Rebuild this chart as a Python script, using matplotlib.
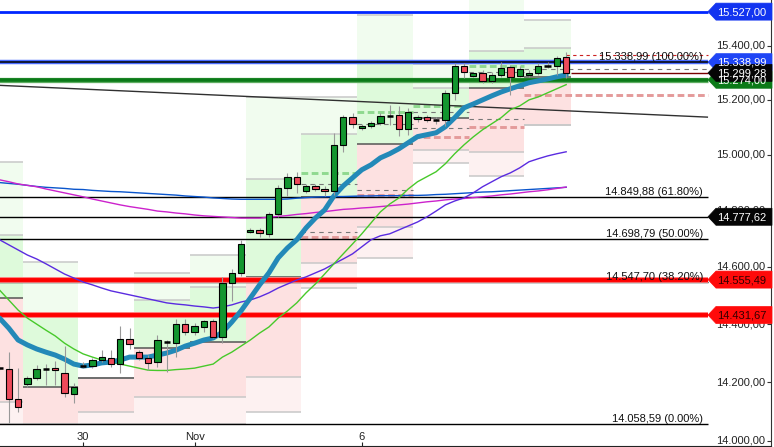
import numpy as np
import matplotlib
matplotlib.use("Agg")
import matplotlib.pyplot as plt
from matplotlib.patches import Polygon
from matplotlib.transforms import ScaledTranslation, blended_transform_factory
from matplotlib.ticker import NullLocator

plt.rcParams['font.family'] = ['Liberation Sans', 'DejaVu Sans']

################################################################################
# --- DATA
################################################################################
# candles (6 per day)
opens = [14250, 14245, 14142, 14192, 14213, 14246, 14247, 14233, 14159, 14254,
         14254, 14275, 14284, 14261, 14349, 14302, 14284, 14268, 14339, 14336,
         14402, 14373, 14391, 14411, 14356, 14543, 14578, 14724, 14730, 14716,
         14786, 14880, 14920, 14871, 14886, 14876, 14868, 15034, 15137, 15097,
         15103, 15114, 15140, 15145, 15093, 15130, 15137, 15127, 15127, 15225,
         15325, 15288, 15298, 15270, 15292, 15320, 15288, 15292, 15298, 15326,
         15326, 15357]
highs = [14262, 14304, 14247, 14221, 14259, 14262, 14273, 14324, 14196, 14270,
         14283, 14310, 14310, 14393, 14385, 14310, 14293, 14362, 14345, 14417,
         14417, 14405, 14416, 14417, 14566, 14593, 14696, 14737, 14737, 14795,
         14892, 14934, 14937, 14894, 14894, 14886, 15079, 15145, 15151, 15113,
         15124, 15151, 15182, 15178, 15170, 15145, 15145, 15139, 15237, 15335,
         15337, 15304, 15310, 15304, 15341, 15329, 15323, 15310, 15335, 15338,
         15362, 15378]
lows = [14238, 14060, 14099, 14184, 14207, 14190, 14190, 14150, 14130, 14247,
        14248, 14270, 14251, 14230, 14313, 14276, 14241, 14253, 14236, 14287,
        14362, 14362, 14373, 14351, 14336, 14482, 14568, 14719, 14707, 14706,
        14778, 14851, 14862, 14862, 14870, 14853, 14856, 15012, 15097, 15091,
        15097, 15109, 15109, 15067, 15073, 15121, 15119, 15113, 15103, 15200,
        15280, 15286, 15262, 15262, 15286, 15218, 15284, 15286, 15292, 15318,
        15292, 15280]
closes = [14250, 14141, 14114, 14213, 14244, 14245, 14240, 14162, 14185, 14255,
          14275, 14285, 14262, 14349, 14330, 14284, 14267, 14345, 14340, 14402,
          14371, 14393, 14411, 14356, 14543, 14578, 14680, 14731, 14719, 14786,
          14880, 14920, 14894, 14886, 14876, 14870, 15036, 15137, 15112, 15105,
          15115, 15142, 15139, 15093, 15155, 15137, 15127, 15127, 15225, 15325,
          15302, 15298, 15270, 15292, 15317, 15286, 15313, 15298, 15323, 15326,
          15354, 15299.28]

# moving averages
ma_teal = [14421, 14386, 14345, 14328, 14314, 14303, 14293, 14279, 14262, 14255,
           14259, 14266, 14269, 14276, 14286, 14286, 14286, 14293, 14300, 14310,
           14324, 14334, 14345, 14352, 14372, 14407, 14446, 14491, 14537, 14579,
           14632, 14667, 14696, 14738, 14773, 14802, 14852, 14888, 14917, 14946,
           14964, 14989, 15004, 15022, 15044, 15066, 15073, 15080, 15102, 15135,
           15171, 15185, 15200, 15215, 15229, 15241, 15252, 15263, 15270, 15277,
           15285, 15292]
ma_lime = [14519, 14484, 14449, 14421, 14400, 14379, 14359, 14334, 14314, 14297,
           14286, 14276, 14269, 14262, 14255, 14248, 14241, 14240, 14240, 14243,
           14245, 14248, 14255, 14262, 14286, 14303, 14324, 14345, 14369, 14390,
           14421, 14446, 14474, 14509, 14540, 14575, 14611, 14646, 14681, 14717,
           14756, 14795, 14823, 14845, 14877, 14903, 14921, 14939, 14968, 15004,
           15036, 15065, 15091, 15113, 15135, 15164, 15178, 15200, 15211, 15226,
           15241, 15256]
ma_purple = [14696, 14678, 14660, 14642, 14628, 14611, 14593, 14575, 14561, 14547,
             14537, 14526, 14516, 14509, 14502, 14495, 14488, 14481, 14474, 14470,
             14467, 14463, 14460, 14456, 14460, 14467, 14477, 14484, 14495, 14509,
             14526, 14540, 14554, 14565, 14579, 14593, 14611, 14628, 14646, 14671,
             14696, 14710, 14717, 14731, 14745, 14759, 14777, 14798, 14820, 14834,
             14845, 14863, 14885, 14903, 14921, 14935, 14953, 14975, 14986, 14996,
             15004, 15011]
ma_blue = [14900, 14897, 14894, 14890, 14886, 14883, 14881, 14879, 14876, 14875,
           14872, 14870, 14868, 14867, 14865, 14863, 14861, 14859, 14857, 14855,
           14852, 14850, 14848, 14845, 14843, 14841, 14840, 14840, 14840, 14840,
           14840, 14841, 14844, 14846, 14848, 14849, 14850, 14850, 14851, 14852,
           14852, 14853, 14853, 14853, 14854, 14854, 14855, 14857, 14858, 14860,
           14862, 14864, 14866, 14867, 14869, 14871, 14873, 14875, 14877, 14879,
           14881, 14883]
ma_magenta = [14910, 14903, 14895, 14890, 14885, 14877, 14870, 14863, 14856, 14849,
              14841, 14834, 14827, 14820, 14814, 14809, 14804, 14798, 14795, 14791,
              14788, 14784, 14781, 14779, 14777, 14775, 14773, 14773, 14773, 14776,
              14779, 14782, 14786, 14789, 14793, 14796, 14800, 14804, 14806, 14809,
              14811, 14814, 14817, 14820, 14823, 14827, 14831, 14834, 14838, 14841,
              14843, 14846, 14849, 14852, 14856, 14859, 14863, 14867, 14870, 14874,
              14879, 14884]

# daily pivot zones (first / last candle of each day)
block_start = [-3, 3, 9, 15, 21, 27, 33, 39, 45, 51, 57]
block_end = [2, 8, 14, 20, 26, 32, 38, 44, 50, 56, 61]
green_top = [14975, 14619, 14213, 14578, 14643, 15212, 15212, 15516, 15333, 15600, 15495]
green_mid = [14713, 14426, 14213, 14484, 14531, 14914, 15076, 15335, 15244, 15382, 15393]
pivot = [14491, 14184, 14213, 14316, 14339, 14564, 14850, 15040, 15134, 15245, 15284]
pink_mid = [14133, 14058.59, 14099, 14150, 14150, 14216, 14613, 14743, 15016, 15012, 15108]
pink_bot = [14058.59, 14058.59, 14058.59, 14058.59, 14058.59, 14099, 14525, 14631, 14970, 14924, 15108]
nan = np.nan
green_dash = [nan, nan, nan, nan, nan, nan, 14934, 15155, 15178, 15325, 15345]
gray_dash_up = [nan, nan, nan, nan, nan, nan, 14894, 15113, 15157, 15301, 15313]
gray_dash_dn = [nan, nan, nan, nan, nan, nan, 14723, 14874, 15097, 15130, nan]
red_dash = [nan, nan, nan, nan, nan, nan, 14707, 14856, 15064, 15101, 15218]

# fibonacci retracement
fib_high = 15338.99
fib_low = 14058.59
fib_ratios = [1.0, 0.618, 0.5, 0.382, 0.0]

# trend line
trend_x = [-1, 76.2]
trend_y = [15255, 15137]

# price levels with tags
level_blue_top = 15527.00
level_blue = 15338.99
level_green = 15274.00
level_last = 15299.28
level_black = 14777.62
level_red1 = 14555.49
level_red2 = 14431.67
level_last_high = 15366

yticks = [14000, 14200, 14400, 14600, 14800, 15000, 15200, 15400]
xtick_pos = [9, 21, 39]
xtick_labels = ["30", "Nov", "6"]


def de(v):
    s = "{:,.2f}".format(v)
    return s.replace(",", "_").replace(".", ",").replace("_", ".")


################################################################################
# --- PLOT
################################################################################
fig = plt.figure(figsize=(7.74, 4.47), dpi=100)
ax = fig.add_axes([0, 1 / 447, 771 / 774, 446 / 447])
ax.set_yscale('log')

X_END = 76.27          # right end of the drawing area (in candle units)
XF_END = 708 / 771     # same in axes fraction
idx = np.arange(len(closes))

# pivot zones
for k in range(len(block_start)):
    xs = [block_start[k] - 0.5, block_end[k] + 0.5]
    ax.fill_between(xs, green_mid[k], green_top[k], color='#f1fcef', lw=0, zorder=0)
    ax.fill_between(xs, pivot[k], green_mid[k], color='#defadb', lw=0, zorder=0)
    ax.fill_between(xs, pink_mid[k], pivot[k], color='#fde1e1', lw=0, zorder=0)
    ax.fill_between(xs, pink_bot[k], pink_mid[k], color='#fdf1f1', lw=0, zorder=0)
    for lv in (green_top[k], green_mid[k], pink_mid[k], pink_bot[k]):
        ax.hlines(lv, xs[0], xs[1], color='#c8c8c8', lw=1.1, zorder=0.5)
    ax.hlines(pivot[k], xs[0], xs[1], color='#555555', lw=1.1, zorder=0.6)
    x_right = X_END if k == len(block_start) - 1 else xs[1]
    if not np.isnan(green_dash[k]):
        ax.hlines(green_dash[k], xs[0], xs[1], color='#8fd98f', lw=2.1,
                  linestyles=(0, (2.3, 1.2)), zorder=0.7)
    if not np.isnan(gray_dash_up[k]):
        ax.hlines(gray_dash_up[k], xs[0], x_right, color='#777777', lw=0.8,
                  linestyles=(0, (4, 4)), zorder=0.7)
    if not np.isnan(gray_dash_dn[k]):
        ax.hlines(gray_dash_dn[k], xs[0], xs[1], color='#777777', lw=0.8,
                  linestyles=(0, (4, 4)), zorder=0.7)
    if not np.isnan(red_dash[k]):
        ax.hlines(red_dash[k], xs[0], x_right, color='#e49a9a', lw=2.1,
                  linestyles=(0, (2.3, 1.2)), zorder=0.7)

# fibonacci lines and labels
for r in fib_ratios:
    lv = fib_low + r * (fib_high - fib_low)
    ax.hlines(lv, -1, X_END, color='black', lw=1.0, zorder=1.2)
    ax.text(703 / 771, lv, "{} ({:.2f}%)".format(de(lv), r * 100),
            transform=blended_transform_factory(ax.transAxes, ax.transData),
            ha='right', va='bottom', fontsize=8, color='#111111', zorder=6)
ax.hlines(level_black, -1, X_END, color='black', lw=1.0, zorder=1.2)

# key horizontal levels
ax.hlines(level_blue_top, -1, X_END, color='#0026ff', lw=2.0, zorder=1.5)
ax.hlines(level_blue, -1, X_END, color='#4a6cff', lw=3.2, zorder=1.5)
ax.hlines(level_blue, -1, X_END, color='black', lw=1.1, zorder=1.6)
ax.hlines(level_green, -1, X_END, color='#5fae62', lw=3.8, zorder=1.5)
ax.hlines(level_green, -1, X_END, color='#0b7a18', lw=2.6, zorder=1.6)
for lv in (level_red1, level_red2):
    ax.hlines(lv, -1, X_END, color='#ff7a7a', lw=4.2, zorder=1.5)
    ax.hlines(lv, -1, X_END, color='#ff0000', lw=2.8, zorder=1.6)
ax.hlines(level_last, idx[-1] + 0.5, X_END, color='#7a0000', lw=1.0, zorder=1.7)
ax.hlines(level_last_high, idx[-1], X_END, color='#cc2222', lw=0.8,
          linestyles=(0, (3, 3)), zorder=1.7)

# trend line
ax.plot(trend_x, trend_y, color='#303030', lw=1.0, zorder=1.8)

# moving averages
ax.plot(idx, ma_blue, color='#0a55cc', lw=1.0, zorder=2)
ax.plot(idx, ma_magenta, color='#cc22cc', lw=1.0, zorder=2)
ax.plot(idx, ma_purple, color='#5a2be0', lw=1.0, zorder=2)
ax.plot(idx, ma_lime, color='#47c92a', lw=1.0, zorder=2)
ax.plot(idx, ma_teal, color='#2389b8', lw=3.6, zorder=2.2, solid_capstyle='round')

# candles
o = np.array(opens)
c = np.array(closes)
ax.vlines(idx, lows, highs, color='#999999', lw=0.8, zorder=3)
doji = np.abs(c - o) < 3
up = (c > o) & ~doji
dn = (c < o) & ~doji
ax.bar(idx[up], (c - o)[up], bottom=o[up], width=0.68, color='#13962f',
       edgecolor='black', lw=0.8, zorder=4)
ax.bar(idx[dn], (o - c)[dn], bottom=c[dn], width=0.68, color='#ee4a5a',
       edgecolor='black', lw=0.8, zorder=4)
ax.hlines(o[doji], idx[doji] - 0.34, idx[doji] + 0.34, color='black', lw=1.8, zorder=4)

# price tags on the right
lab_tr = blended_transform_factory(ax.transAxes, ax.transData)


def price_tag(level, fc, tc, text):
    off = fig.dpi_scale_trans + ScaledTranslation(XF_END, level, lab_tr)
    poly = Polygon([(0, 0), (0.08, 0.085), (0.64, 0.085), (0.64, -0.085), (0.08, -0.085)],
                   closed=True, transform=off, fc=fc, ec=fc, lw=0.5,
                   zorder=10, clip_on=False)
    ax.add_patch(poly)
    ax.text(0.34, -0.005, text, transform=off, ha='center', va='center',
            color=tc, fontsize=8, zorder=11, clip_on=False)


price_tag(level_blue_top, '#1234f0', 'white', de(level_blue_top))
price_tag(level_green, '#0b7a18', 'white', de(level_green))
price_tag(level_blue, '#1f45f5', 'white', de(level_blue))
price_tag(level_last, '#050505', 'white', de(level_last))
price_tag(level_black, '#050505', 'white', de(level_black))
price_tag(level_red1, '#ff0a0a', '#330000', de(level_red1))
price_tag(level_red2, '#ff0a0a', '#330000', de(level_red2))

# axes styling
for t in yticks:
    ax.text(765 / 771, t, de(t), transform=lab_tr, ha='right', va='center',
            fontsize=8, color='#222222', zorder=5)
ax.set_yticks(yticks)
ax.yaxis.set_minor_locator(NullLocator())
ax.tick_params(axis='y', which='both', left=False, right=True, direction='in',
               length=3, labelleft=False, labelright=False, color='#333333')
ax.set_xticks(xtick_pos)
ax.set_xticklabels(xtick_labels)
ax.tick_params(axis='x', direction='in', length=3, pad=-10, labelsize=8,
               colors='#222222')
for side in ('top', 'left'):
    ax.spines[side].set_visible(False)
ax.spines['bottom'].set_color('#222222')
ax.spines['right'].set_color('#333333')

ax.set_xlim(0.054, 83.05)
ax.set_ylim(13983, 15570.6)

fig.savefig("out.png", dpi=100)
